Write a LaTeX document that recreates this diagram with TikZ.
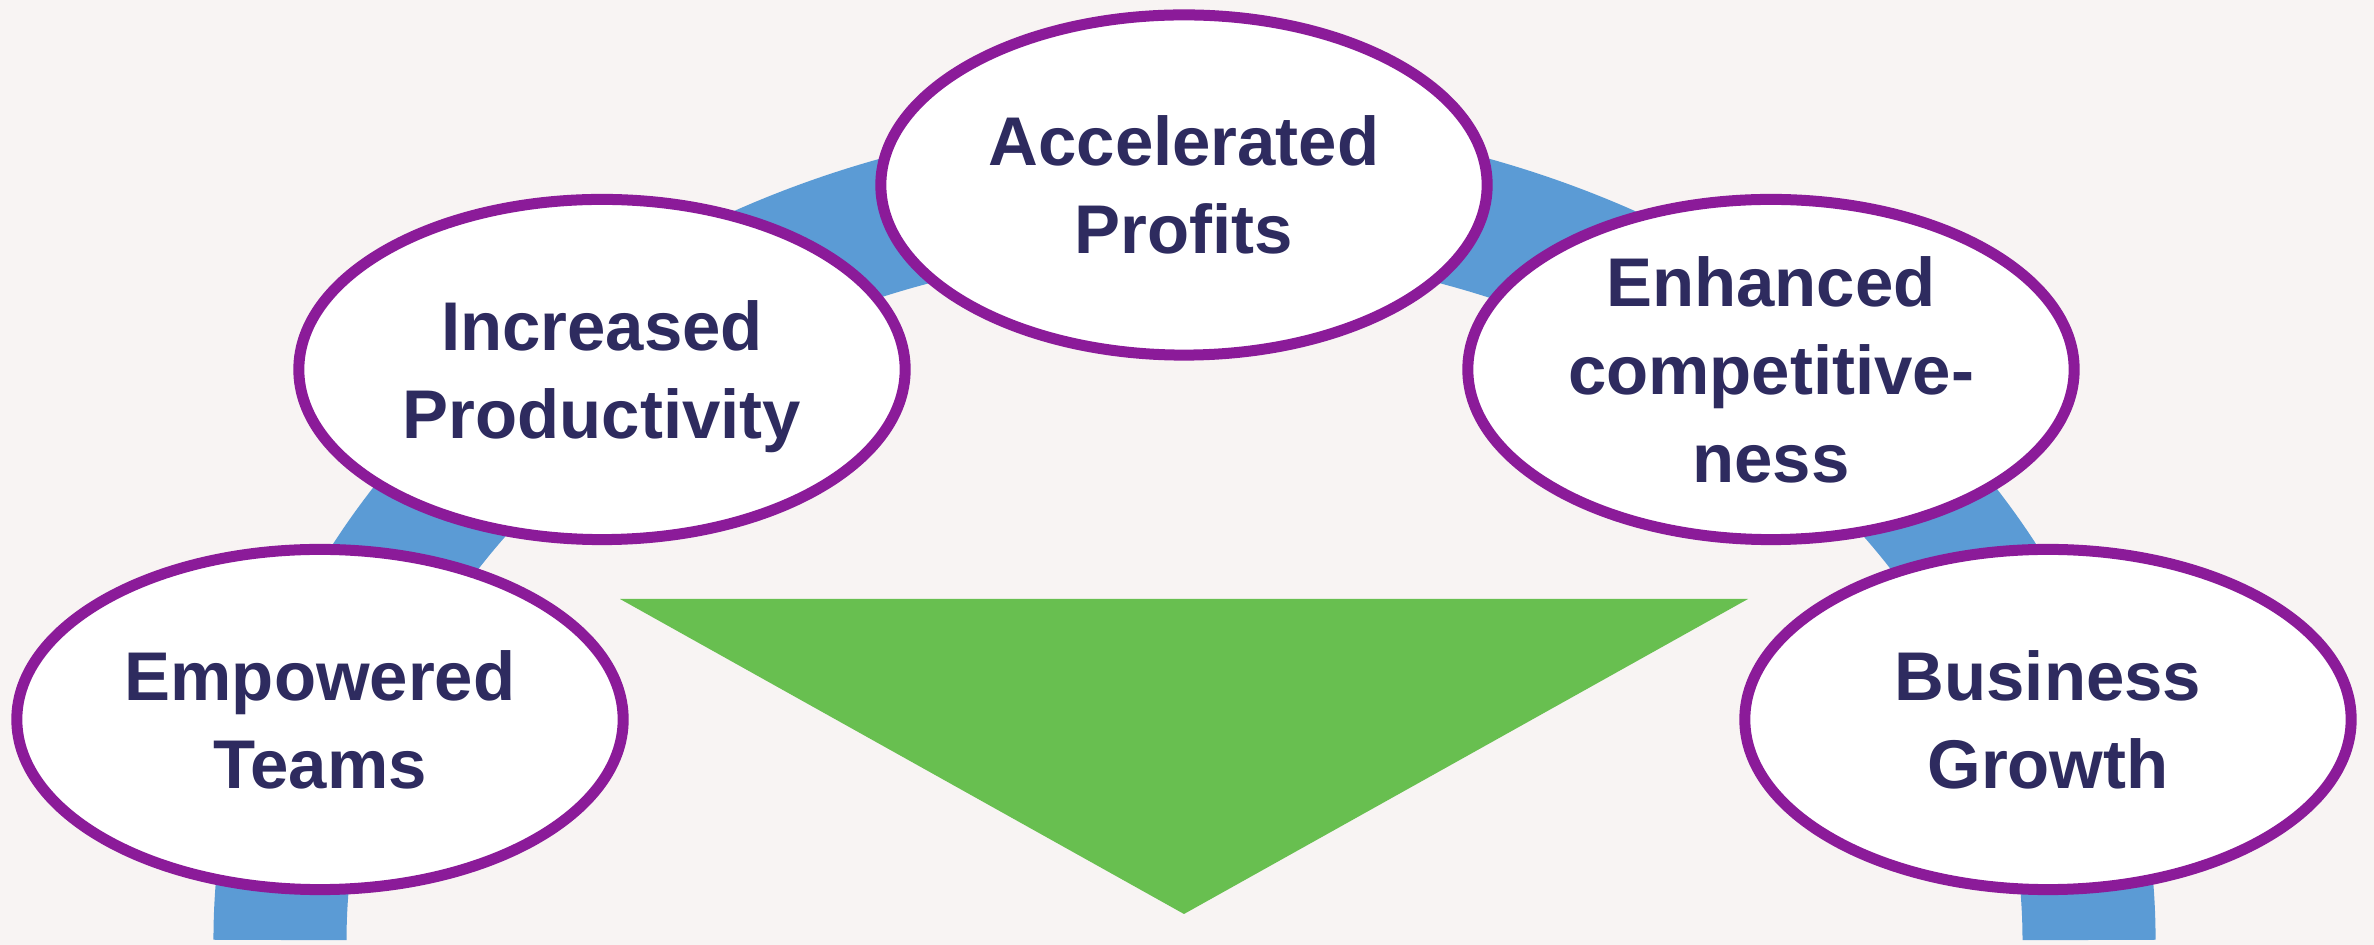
\documentclass[tikz,border=0pt]{standalone}
\usepackage{fontspec}
\setmainfont{Liberation Sans}
\usetikzlibrary{shapes.geometric}
\definecolor{bgc}{HTML}{F8F4F3}
\definecolor{arcblue}{HTML}{5B9BD5}
\definecolor{trigreen}{HTML}{68BF50}
\definecolor{purp}{HTML}{8B1B99}
\definecolor{navy}{HTML}{2E2B5F}
\tikzset{
  bubble/.style={ellipse, draw=purp, fill=white, line width=0.11cm,
    minimum width=6.06cm, minimum height=3.40cm, inner sep=0pt,
    align=center, text=navy, text depth=0pt,
    font=\fontsize{19.6pt}{25.04pt}\selectfont\bfseries},
  band/.style={draw=arcblue, line width=1.33cm},
  wedge/.style={fill=trigreen}
}
\begin{document}
\begin{tikzpicture}[x=0.01cm,y=0.01cm]
\fill[bgc] (0,0) rectangle (2374,945);
\useasboundingbox (0,0) rectangle (2374,945);
\begin{scope}
\clip (0,0) rectangle (2374,945);
\draw[band] (280,5) arc[start angle=180, end angle=0, x radius=9.04cm, y radius=7.555cm];
\end{scope}
\fill[wedge] (620,346) -- (1748,346) -- (1184,31) -- cycle;
\node[bubble] (emp) at (320,225.5) {Empowered\\Teams};
\node[bubble] (inc) at (602,575.5) {Increased\\Productivity};
\node[bubble] (acc) at (1184,760) {Accelerated\\Profits};
\node[bubble] (enh) at (1771,575.5) {Enhanced\\competitive-\\ness};
\node[bubble] (bus) at (2048,225.5) {Business\\Growth};
\end{tikzpicture}
\end{document}
